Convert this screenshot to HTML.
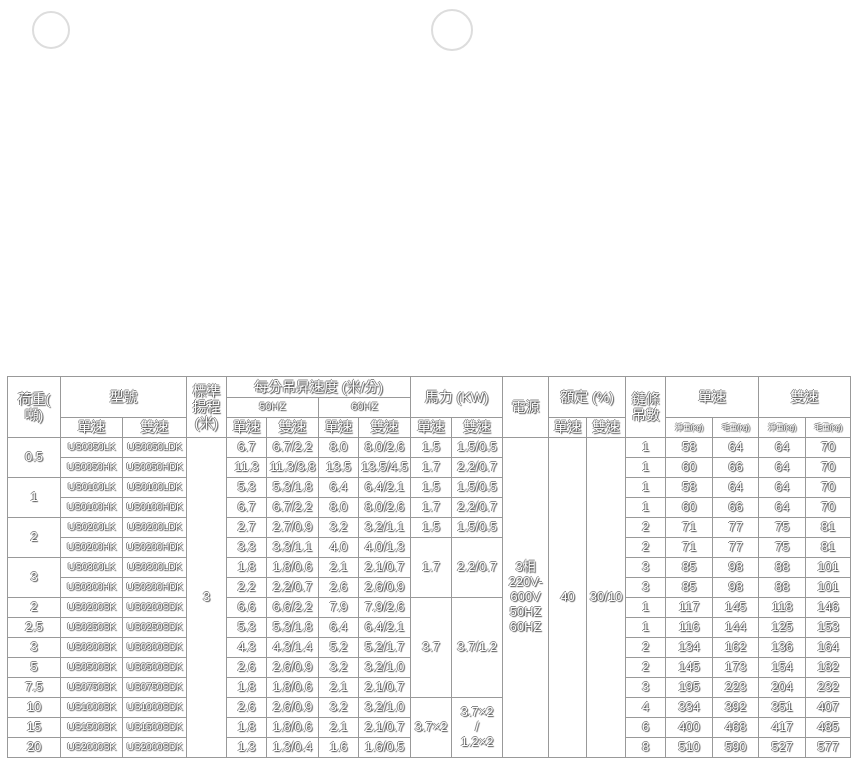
<!DOCTYPE html>
<html><head><meta charset="utf-8"><style>
body{margin:0;width:853px;height:764px;background:#fff;position:relative;overflow:hidden;font-family:"Liberation Sans","Noto Sans CJK TC",sans-serif}
.c{position:absolute;width:34px;height:34px;border:2px solid #ddd;border-radius:50%}
table{position:absolute;left:7px;top:376px;width:843px;border-collapse:collapse;table-layout:fixed}
td{border:1px solid #999;padding:0;text-align:center;color:#fff;text-shadow:1px 1px 1px #444,-1px 0 0 #888,0 -1px 0 #888;font-size:13px;height:19px;white-space:nowrap;overflow:hidden;line-height:1.15}
tr.h td{font-size:14px}
tr.h td.s{font-size:11px}
tr.h td.k{font-size:8px;letter-spacing:-0.3px}
td.m{font-size:10.5px;letter-spacing:-0.4px}
</style></head><body>
<div class="c" style="left:32px;top:11px"></div>
<div class="c" style="left:431px;top:9px;width:38px;height:38px"></div>
<table>
<colgroup><col style="width:53px"><col style="width:62px"><col style="width:64px"><col style="width:40px"><col style="width:40px"><col style="width:52px"><col style="width:40px"><col style="width:52px"><col style="width:41px"><col style="width:51px"><col style="width:46px"><col style="width:38px"><col style="width:39px"><col style="width:40px"><col style="width:47px"><col style="width:46px"><col style="width:47px"><col style="width:45px"></colgroup>
<tr class="h" style="height:21px"><td rowspan="3">荷重(<br>噸)</td><td colspan="2" rowspan="2">型號</td><td rowspan="3">標準<br>揚程<br>(米)</td><td colspan="4">每分吊昇速度 (米/分)</td><td colspan="2" rowspan="2">馬力 (KW)</td><td rowspan="3">電源</td><td colspan="2" rowspan="2">額定 (%)</td><td rowspan="3">鏈條<br>吊數</td><td colspan="2" rowspan="2">單速</td><td colspan="2" rowspan="2">雙速</td></tr>
<tr class="h" style="height:20px"><td colspan="2" class="s">50HZ</td><td colspan="2" class="s">60HZ</td></tr>
<tr class="h" style="height:20px"><td>單速</td><td>雙速</td><td>單速</td><td>雙速</td><td>單速</td><td>雙速</td><td>單速</td><td>雙速</td><td>單速</td><td>雙速</td><td class="k">淨重(kg)</td><td class="k">毛重(kg)</td><td class="k">淨重(kg)</td><td class="k">毛重(kg)</td></tr>
<tr><td rowspan="2">0.5</td><td class="m">US0050LK</td><td class="m">US0050LDK</td><td rowspan="16">3</td><td>6.7</td><td>6.7/2.2</td><td>8.0</td><td>8.0/2.6</td><td>1.5</td><td>1.5/0.5</td><td rowspan="16">3相<br>220V-<br>600V<br>50HZ<br>60HZ</td><td rowspan="16">40</td><td rowspan="16">30/10</td><td>1</td><td>58</td><td>64</td><td>64</td><td>70</td></tr>
<tr><td class="m">US0050HK</td><td class="m">US0050HDK</td><td>11.3</td><td>11.3/3.8</td><td>13.5</td><td>13.5/4.5</td><td>1.7</td><td>2.2/0.7</td><td>1</td><td>60</td><td>66</td><td>64</td><td>70</td></tr>
<tr><td rowspan="2">1</td><td class="m">US0100LK</td><td class="m">US0100LDK</td><td>5.3</td><td>5.3/1.8</td><td>6.4</td><td>6.4/2.1</td><td>1.5</td><td>1.5/0.5</td><td>1</td><td>58</td><td>64</td><td>64</td><td>70</td></tr>
<tr><td class="m">US0100HK</td><td class="m">US0100HDK</td><td>6.7</td><td>6.7/2.2</td><td>8.0</td><td>8.0/2.6</td><td>1.7</td><td>2.2/0.7</td><td>1</td><td>60</td><td>66</td><td>64</td><td>70</td></tr>
<tr><td rowspan="2">2</td><td class="m">US0200LK</td><td class="m">US0200LDK</td><td>2.7</td><td>2.7/0.9</td><td>3.2</td><td>3.2/1.1</td><td>1.5</td><td>1.5/0.5</td><td>2</td><td>71</td><td>77</td><td>75</td><td>81</td></tr>
<tr><td class="m">US0200HK</td><td class="m">US0200HDK</td><td>3.3</td><td>3.3/1.1</td><td>4.0</td><td>4.0/1.3</td><td rowspan="3">1.7</td><td rowspan="3">2.2/0.7</td><td>2</td><td>71</td><td>77</td><td>75</td><td>81</td></tr>
<tr><td rowspan="2">3</td><td class="m">US0300LK</td><td class="m">US0300LDK</td><td>1.8</td><td>1.8/0.6</td><td>2.1</td><td>2.1/0.7</td><td>3</td><td>85</td><td>98</td><td>88</td><td>101</td></tr>
<tr><td class="m">US0300HK</td><td class="m">US0300HDK</td><td>2.2</td><td>2.2/0.7</td><td>2.6</td><td>2.6/0.9</td><td>3</td><td>85</td><td>98</td><td>88</td><td>101</td></tr>
<tr><td>2</td><td class="m">US0200SK</td><td class="m">US0200SDK</td><td>6.6</td><td>6.6/2.2</td><td>7.9</td><td>7.9/2.6</td><td rowspan="5">3.7</td><td rowspan="5">3.7/1.2</td><td>1</td><td>117</td><td>145</td><td>118</td><td>146</td></tr>
<tr><td>2.5</td><td class="m">US0250SK</td><td class="m">US0250SDK</td><td>5.3</td><td>5.3/1.8</td><td>6.4</td><td>6.4/2.1</td><td>1</td><td>116</td><td>144</td><td>125</td><td>153</td></tr>
<tr><td>3</td><td class="m">US0300SK</td><td class="m">US0300SDK</td><td>4.3</td><td>4.3/1.4</td><td>5.2</td><td>5.2/1.7</td><td>2</td><td>134</td><td>162</td><td>136</td><td>164</td></tr>
<tr><td>5</td><td class="m">US0500SK</td><td class="m">US0500SDK</td><td>2.6</td><td>2.6/0.9</td><td>3.2</td><td>3.2/1.0</td><td>2</td><td>145</td><td>173</td><td>154</td><td>182</td></tr>
<tr><td>7.5</td><td class="m">US0750SK</td><td class="m">US0750SDK</td><td>1.8</td><td>1.8/0.6</td><td>2.1</td><td>2.1/0.7</td><td>3</td><td>195</td><td>223</td><td>204</td><td>232</td></tr>
<tr><td>10</td><td class="m">US1000SK</td><td class="m">US1000SDK</td><td>2.6</td><td>2.6/0.9</td><td>3.2</td><td>3.2/1.0</td><td rowspan="3">3.7×2</td><td rowspan="3">3.7×2<br>/<br>1.2×2</td><td>4</td><td>334</td><td>392</td><td>351</td><td>407</td></tr>
<tr><td>15</td><td class="m">US1500SK</td><td class="m">US1500SDK</td><td>1.8</td><td>1.8/0.6</td><td>2.1</td><td>2.1/0.7</td><td>6</td><td>400</td><td>468</td><td>417</td><td>485</td></tr>
<tr><td>20</td><td class="m">US2000SK</td><td class="m">US2000SDK</td><td>1.3</td><td>1.3/0.4</td><td>1.6</td><td>1.6/0.5</td><td>8</td><td>510</td><td>590</td><td>527</td><td>577</td></tr>
</table>
</body></html>
